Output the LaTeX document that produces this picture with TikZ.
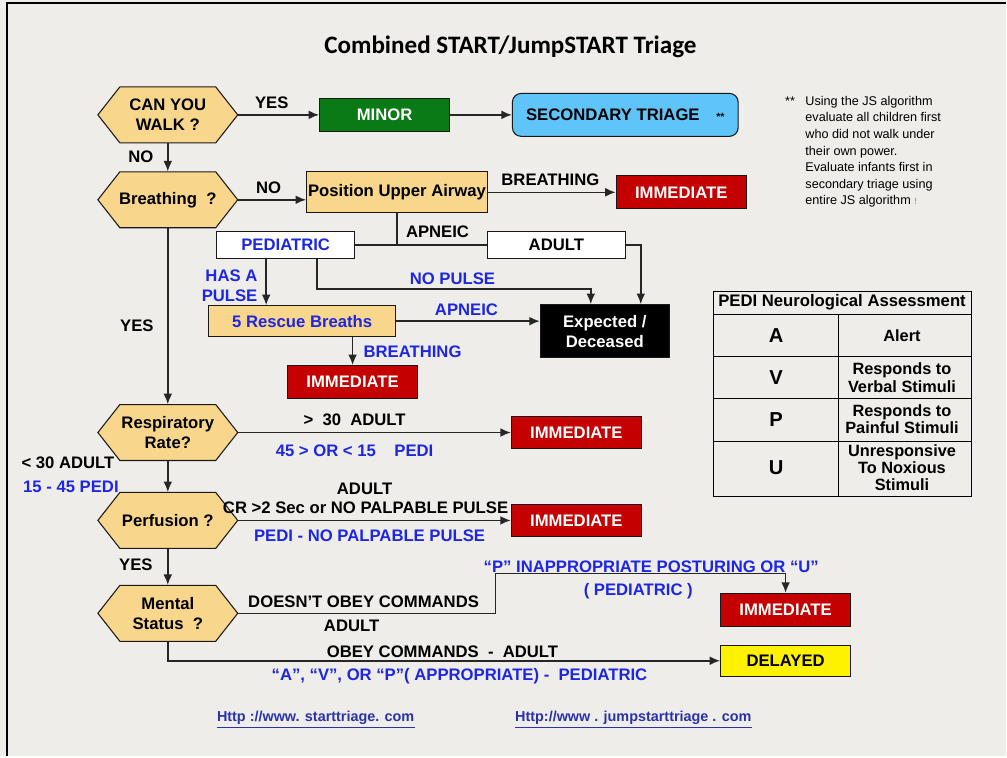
\documentclass[tikz,border=0pt]{standalone}
\usepackage{fontspec}
\setmainfont{Liberation Sans}
\newfontfamily\titlefont{Carlito}
\usetikzlibrary{arrows.meta}
\definecolor{paper}{RGB}{239,237,234}
\definecolor{gold}{RGB}{248,214,140}
\definecolor{redbox}{RGB}{196,0,0}
\definecolor{greenbox}{RGB}{10,122,20}
\definecolor{skybox}{RGB}{95,196,250}
\definecolor{bluetxt}{RGB}{28,38,228}
\definecolor{urlblue}{RGB}{40,50,170}
\newcommand\bfnt{\fontsize{9.5}{11.3}\selectfont\bfseries}
\begin{document}
\begin{tikzpicture}[x=0.2mm,y=-0.2mm,font=\bfnt,>={Latex[length=6pt,width=5pt]},inner sep=0pt,
	box/.style={draw=black!90,line width=0.6pt,minimum width=26mm,minimum height=6.6mm,align=center},
	imm/.style={box,fill=redbox,text=white},
	gbox/.style={box,fill=gold},
	wbox/.style={box,fill=white,minimum width=27.6mm,minimum height=5.4mm},
	hexa/.style={draw=black!90,line width=0.6pt,fill=gold},
	hexnode/.style={minimum width=28mm,minimum height=11.2mm,align=center},
	link/.style={->,draw=black!85,line width=0.9pt},
	wire/.style={draw=black!85,line width=0.9pt},
	blu/.style={text=bluetxt}]
	\fill[paper] (0,0) rectangle (1007,757);
	\draw[line width=1.3pt] (7,757) -- (7,3) -- (1007,3);
	\node (title) at (511,47) {\titlefont\fontsize{14.3}{16}\selectfont\bfseries Combined START/JumpSTART Triage};
	% decision hexagons
	\foreach \n/\p/\t in {walk/{168,115}/{CAN YOU\\WALK ?},breath/{168,200}/{Breathing\ \ ?},resp/{168,433}/{Respiratory\\Rate?},perf/{168,521}/{Perfusion ?},ment/{168,614}/{Mental\\Status\ \ ?}}{
		\draw[hexa] (\p) +(-70,0) -- +(-48,-28) -- +(48,-28) -- +(70,0) -- +(48,28) -- +(-48,28) -- cycle;
		\node[hexnode] (\n) at (\p) {\t};
	}
	% boxes
	\node[box,fill=greenbox,text=white] (minor) at (385,115) {MINOR};
	\node[box,fill=skybox,rounded corners=5pt,minimum width=45.2mm,minimum height=8.6mm] (second) at (626,115) {SECONDARY TRIAGE\quad{\fontsize{6}{6}\selectfont **}};
	\node[gbox,minimum width=36.2mm,minimum height=8.2mm] (pua) at (397.5,192.5) {Position Upper Airway};
	\node[imm] (imm1) at (682,192.5) {IMMEDIATE};
	\node[wbox,blu] (pedi) at (286,245.5) {PEDIATRIC};
	\node[wbox] (adult) at (557,245.5) {ADULT};
	\node[box,fill=black,text=white,minimum width=25.8mm,minimum height=10.6mm] (dead) at (605.5,331.5) {Expected /\\Deceased};
	\node[gbox,blu,minimum width=37.4mm,minimum height=6.2mm] (rescue) at (302.5,321.5) {5 Rescue Breaths};
	\node[imm] (imm2) at (353,382.5) {IMMEDIATE};
	\node[imm,minimum height=6.4mm] (imm3) at (577,433) {IMMEDIATE};
	\node[imm,minimum height=6.4mm] (imm4) at (577,521) {IMMEDIATE};
	\node[imm] (imm5) at (786.5,610.5) {IMMEDIATE};
	\node[box,fill=yellow,minimum height=6.2mm] (delayed) at (786.5,661.5) {DELAYED};
	% connectors
	\draw[link] (walk.east) -- (minor.west);
	\draw[link] (minor.east) -- (second.west);
	\draw[link] (walk.south) -- (breath.north);
	\draw[link] (breath.east) -- (breath.east -| pua.west);
	\draw[link] (pua.east) -- (imm1.west);
	\draw[wire] (pedi.east) -- (adult.west) (pua.south) -- (pua.south |- pedi.east);
	\draw[link] (adult.east) -| ([xshift=-5.8mm]dead.north east);
	\coordinate (pulse) at ([xshift=10mm]pedi.south west);
	\coordinate (nopulse) at ([xshift=20.2mm]pedi.south west);
	\draw[link] (pulse) -- (pulse |- rescue.north);
	\draw[link] (nopulse) -- ++(0,30) -| ([xshift=10.2mm]dead.north west);
	\draw[link] (rescue.east) -- (rescue.east -| dead.west);
	\draw[link] (imm2.north |- rescue.south) -- (imm2.north);
	\draw[link] (breath.south) -- (resp.north);
	\draw[link] (resp.east) -- (imm3.west);
	\draw[link] (resp.south) -- (perf.north);
	\draw[link] (perf.east) -- (imm4.west);
	\draw[link] (perf.south) -- (ment.north);
	\coordinate (kink) at (496,574);
	\draw[link] (ment.east) -| (kink) -| (imm5.north);
	\draw[link] (ment.south) |- (delayed.west);
	% labels
	\node (yes1) at (272,103) {YES};
	\node (no1) at (141,157) {NO};
	\node (no2) at (269,188) {NO};
	\node (brth1) at (551,180) {BREATHING};
	\node (apn1) at (438,232) {APNEIC};
	\node[blu,align=right,anchor=east] (has) at (258,286) {HAS A\\PULSE};
	\node[blu] (nop) at (453,279) {NO PULSE};
	\node[blu] (apn2) at (467,310) {APNEIC};
	\node[blu] (brth2) at (413,352) {BREATHING};
	\node (yes2) at (137,326) {YES};
	\node (rr1) at (355,420) {>\ \ 30\ \ ADULT};
	\node[blu] (rr2) at (355,451) {45 > OR < 15\ \ \ \ PEDI};
	\node (rr3) at (68,463) {< 30 ADULT};
	\node[blu] (rr4) at (71,487) {15 - 45 PEDI};
	\node (pf1) at (365,489) {ADULT};
	\node (pf2) at (366,508) {CR >2 Sec or NO PALPABLE PULSE};
	\node[blu] (pf3) at (370,536) {PEDI - NO PALPABLE PULSE};
	\node (yes3) at (136,565) {YES};
	\node (ms1) at (364,602) {DOESN’T OBEY COMMANDS};
	\node (ms2) at (352,627) {ADULT};
	\node[blu] (ms3) at (652,567) {“P” INAPPROPRIATE POSTURING OR “U”};
	\node[blu] (ms4) at (639,592) {( PEDIATRIC )};
	\node (ms5) at (443,652) {OBEY COMMANDS\ \ -\ \ ADULT};
	\node[blu] (ms6) at (460,677) {“A”, “V”, OR “P”( APPROPRIATE) -\ \ PEDIATRIC};
	% footnote
	\node[font=\fontsize{7.2}{9.45}\selectfont] (stars) at (791,101) {**};
	\node[font=\fontsize{7.2}{9.45}\selectfont,align=left,anchor=north west] (note) at (806,96) {Using the JS algorithm\\evaluate all children first\\who did not walk under\\their own power.\\Evaluate infants first in\\secondary triage using\\entire JS algorithm {\color{gray}\fontsize{5}{5}\selectfont !}};
	% AVPU table
	\draw[line width=0.6pt] (714,292) rectangle (973,497) (714,315) -- (973,315) (839,315) -- (839,497)
	(714,357) -- (973,357) (714,399) -- (973,399) (714,442) -- (973,442);
	\node (head) at (843,303) {PEDI Neurological Assessment};
	\foreach \l/\y/\t in {A/336/Alert,V/378/{Responds to\\Verbal Stimuli},P/420/{Responds to\\Painful Stimuli},U/468/{Unresponsive\\To Noxious\\Stimuli}}{
		\node[font=\fontsize{11.5}{13}\selectfont\bfseries] (l\l) at (777,\y) {\l};
		\node[align=center,font=\fontsize{9.3}{9.8}\selectfont\bfseries] (t\l) at (903,\y) {\t};
	}
	% links
	\node[text=urlblue,font=\fontsize{8.2}{9}\selectfont\bfseries] (url1) at (316,719) {Http ://www. starttriage. com};
	\node[text=urlblue,font=\fontsize{8.2}{9}\selectfont\bfseries] (url2) at (634,719) {Http://www . jumpstarttriage . com};
	\draw[urlblue,line width=0.5pt] ([yshift=-1.5pt]url1.south west) -- ([yshift=-1.5pt]url1.south east)
	([yshift=-1.5pt]url2.south west) -- ([yshift=-1.5pt]url2.south east);
\end{tikzpicture}
\end{document}
